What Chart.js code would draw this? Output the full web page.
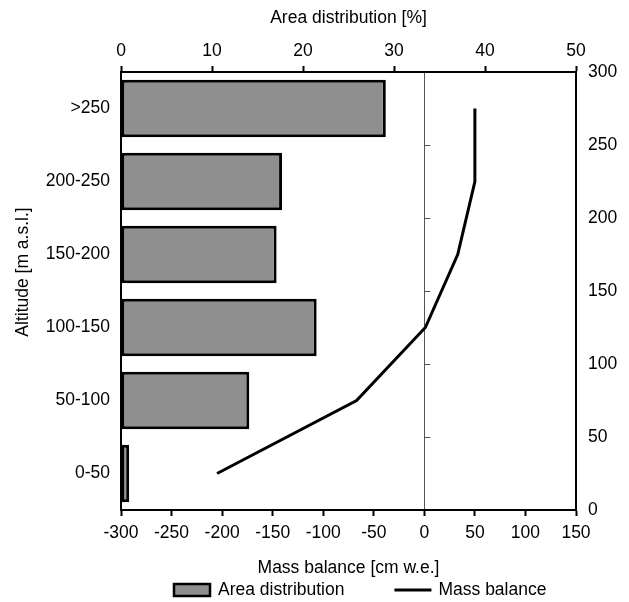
<!DOCTYPE html>
<html>
<head>
<meta charset="utf-8">
<script src="https://cdn.jsdelivr.net/npm/chart.js@4.4.1/dist/chart.umd.min.js"></script>
<style>
  html, body { margin: 0; padding: 0; background: #fff; }
  #wrap { width: 629px; height: 602px; position: relative; }
</style>
</head>
<body>
<div id="wrap"><canvas id="c" width="629" height="602"></canvas></div>
<script>
// Altitude bands (top to bottom) and their share of the glacier area [%]
const altitudeBands = ['>250', '200-250', '150-200', '100-150', '50-100', '0-50'];
const areaShare = [29.1, 17.7, 17.1, 21.5, 14.1, 0.9];

// Mass balance profile: band mid-altitude [m a.s.l.] and balance [cm w.e.]
const profileAltitude = [25, 75, 125, 175, 225, 275];
const massBalance = [-205, -67, 1, 33, 50, 50];

// Axis tick settings
const areaTicks = { min: 0, max: 50, step: 10 };
const balanceTicks = { min: -300, max: 150, step: 50 };
const altitudeTicks = { min: 0, max: 300, step: 50 };

const FONT = { family: '"Liberation Sans", Arial, sans-serif', size: 17.5 };
const BAR_FILL = '#8f8f8f';
const ALTITUDE_TITLE = 'Altitude [m a.s.l.]';

// Short marks on the zero-balance line at every altitude tick
const zeroLineTicks = {
  id: 'zeroLineTicks',
  beforeDatasetsDraw(chart) {
    const xs = chart.scales.xBottom, ys = chart.scales.yRight;
    const x0 = xs.getPixelForValue(0);
    const ctx = chart.ctx;
    ctx.save();
    ctx.strokeStyle = '#555';
    ctx.lineWidth = 1;
    for (let v = altitudeTicks.min + altitudeTicks.step; v < altitudeTicks.max; v += altitudeTicks.step) {
      const y = Math.round(ys.getPixelForValue(v)) + 0.5;
      ctx.beginPath();
      ctx.moveTo(x0, y);
      ctx.lineTo(x0 + 6, y);
      ctx.stroke();
    }
    ctx.restore();
  }
};

// Rotated title of the altitude-band axis and the legend row
const extraText = {
  id: 'extraText',
  afterDraw(chart) {
    const ctx = chart.ctx;
    const area = chart.chartArea;
    ctx.save();
    ctx.font = `${FONT.size}px ${FONT.family}`;
    ctx.fillStyle = '#000';

    // axis title, rotated
    ctx.save();
    ctx.translate(23, (area.top + area.bottom) / 2 - 19);
    ctx.rotate(-Math.PI / 2);
    ctx.textAlign = 'center';
    ctx.textBaseline = 'middle';
    ctx.fillText(ALTITUDE_TITLE, 0, 0);
    ctx.restore();

    // legend
    const y = 590;
    ctx.textBaseline = 'middle';
    ctx.textAlign = 'left';
    let x = 174;
    chart.data.datasets.forEach((ds) => {
      if (ds.type !== 'line') {
        ctx.fillStyle = ds.backgroundColor;
        ctx.fillRect(x, y - 6, 36, 12);
        ctx.strokeStyle = ds.borderColor;
        ctx.lineWidth = 2.5;
        ctx.strokeRect(x, y - 6, 36, 12);
      } else {
        ctx.strokeStyle = ds.borderColor;
        ctx.lineWidth = 3;
        ctx.beginPath();
        ctx.moveTo(x, y);
        ctx.lineTo(x + 37, y);
        ctx.stroke();
      }
      ctx.fillStyle = '#000';
      ctx.fillText(ds.label, x + 44, y);
      x += 44 + ctx.measureText(ds.label).width + 50;
    });
    ctx.restore();
  }
};

new Chart(document.getElementById('c'), {
  type: 'bar',
  data: {
    labels: altitudeBands,
    datasets: [
      {
        label: 'Area distribution',
        data: areaShare,
        xAxisID: 'xTop',
        yAxisID: 'y',
        backgroundColor: BAR_FILL,
        borderColor: '#000',
        borderWidth: 3,
        borderSkipped: false,
        grouped: false,
        barPercentage: 0.79,
        categoryPercentage: 1.0,
        order: 2
      },
      {
        type: 'line',
        label: 'Mass balance',
        data: profileAltitude.map((alt, i) => ({ x: massBalance[i], y: alt })),
        xAxisID: 'xBottom',
        yAxisID: 'yRight',
        borderColor: '#000',
        backgroundColor: '#000',
        borderWidth: 3,
        pointRadius: 0,
        tension: 0,
        fill: false,
        order: 1
      }
    ]
  },
  options: {
    indexAxis: 'y',
    responsive: false,
    animation: false,
    devicePixelRatio: 1,
    layout: { padding: 0 },
    plugins: {
      legend: { display: false },
      tooltip: { enabled: false }
    },
    scales: {
      y: {
        type: 'category',
        position: 'left',
        offset: true,
        grid: { display: false, drawTicks: false },
        border: { display: true, color: '#000', width: 2 },
        ticks: { color: '#000', font: FONT, padding: 11 },
        title: { display: false },
        afterFit(s) { s.width = 121; }
      },
      yRight: {
        type: 'linear',
        position: 'right',
        offset: false,
        min: altitudeTicks.min,
        max: altitudeTicks.max,
        grid: { display: false, drawTicks: false, offset: false },
        border: { display: true, color: '#000', width: 2 },
        ticks: { stepSize: altitudeTicks.step, color: '#000', font: FONT, padding: 12 },
        afterFit(s) { s.width = 53; }
      },
      xTop: {
        type: 'linear',
        position: 'top',
        min: areaTicks.min,
        max: areaTicks.max,
        grid: { drawOnChartArea: false, drawTicks: true, tickLength: 6, tickColor: '#000', tickWidth: 2 },
        border: { display: true, color: '#000', width: 2 },
        ticks: { stepSize: areaTicks.step, color: '#000', font: FONT, padding: 4, maxRotation: 0 },
        title: { display: true, text: 'Area distribution [%]', color: '#000', font: FONT, padding: { top: 8, bottom: 0 } },
        afterFit(s) { s.height = 72; }
      },
      xBottom: {
        type: 'linear',
        position: 'bottom',
        min: balanceTicks.min,
        max: balanceTicks.max,
        grid: {
          drawOnChartArea: true,
          drawTicks: true,
          tickLength: 6,
          tickColor: '#000',
          tickWidth: 2,
          lineWidth: 1,
          color: (c) => (c.tick && c.tick.value === 0 ? '#555' : 'rgba(0,0,0,0)')
        },
        border: { display: true, color: '#000', width: 2 },
        ticks: { stepSize: balanceTicks.step, color: '#000', font: FONT, padding: 7, maxRotation: 0 },
        title: { display: true, text: 'Mass balance [cm w.e.]', color: '#000', font: FONT, padding: { top: 0, bottom: 23 } },
        afterFit(s) { s.height = 92; }
      }
    }
  },
  plugins: [zeroLineTicks, extraText]
});
</script>
</body>
</html>
